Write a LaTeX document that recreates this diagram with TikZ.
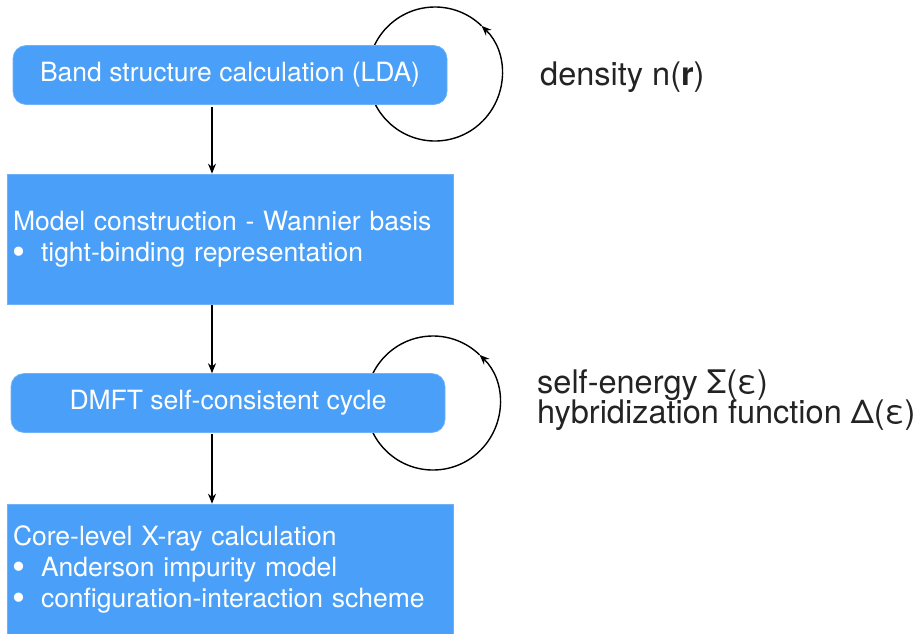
\documentclass[tikz,border=0pt]{standalone}
\usepackage{fontspec}
\usepackage{graphicx}
\setmainfont{TeX Gyre Heros}
\usetikzlibrary{arrows.meta,calc}
\definecolor{boxblue}{RGB}{74,160,248}
\definecolor{txtgray}{RGB}{35,35,35}
\tikzset{
  flowbox/.style={fill=boxblue, draw=boxblue!80!white, line width=0.6pt, text=white, inner sep=6pt},
  roundbox/.style={flowbox, rounded corners=13pt, minimum width=434pt, minimum height=59pt, font=\fontsize{26.5}{30}\selectfont},
  squarebox/.style={flowbox, minimum width=446pt, minimum height=130pt, text width=434pt, align=left, font=\fontsize{26.5}{31}\selectfont},
  flowarrow/.style={line width=1.2pt, -{Stealth[length=10pt,width=8pt]}},
  loop/.style={line width=1.4pt, -{Stealth[length=10pt,width=8pt]}},
  sidetext/.style={anchor=base west, inner sep=0pt, text=txtgray, font=\fontsize{32.5}{32.5}\selectfont},
}
\newcommand{\bul}{\makebox[28pt][l]{\hspace{-0.5pt}\raisebox{-3pt}[0pt][0pt]{\scalebox{1.4}{\textbullet}}}}
\begin{document}
\begin{tikzpicture}[x=1pt,y=-1pt]
\useasboundingbox (0,0) rectangle (915,633);
% loops (behind boxes)
\coordinate (c1) at (435,74);
\coordinate (c2) at (433,403);
\draw[loop] ([shift={(314:67)}]c1) arc[start angle=314, end angle=-46, radius=67];
\draw[loop] ([shift={(314:67)}]c2) arc[start angle=314, end angle=-46, radius=67];
% boxes
\node[roundbox] (b1) at (230,75) {Band structure calculation (LDA)};
\node[squarebox] (b2) at (230,239) {Model construction - Wannier basis\\\bul tight-binding representation};
\node[roundbox] (b3) at (228,403) {DMFT self-consistent cycle};
\node[squarebox] (b4) at (230,569) {Core-level X-ray calculation\\\bul Anderson impurity model\\\bul configuration-interaction scheme};
% arrows
\coordinate (ax) at (212,0);
\draw[flowarrow] ($(b1.south -| ax)+(0,2)$) -- (b2.north -| ax);
\draw[flowarrow] ($(b2.south -| ax)+(0,1)$) -- (b3.north -| ax);
\draw[flowarrow] ($(b3.south -| ax)+(0,1)$) -- (b4.north -| ax);
% side texts
\node[sidetext] (t1) at (540,85) {density n(\textbf{r})};
\node[sidetext] (t2) at (537,393) {self-energy Σ(ε)};
\node[sidetext] (t3) at (537,423) {hybridization function Δ(ε)};
\end{tikzpicture}
\end{document}
